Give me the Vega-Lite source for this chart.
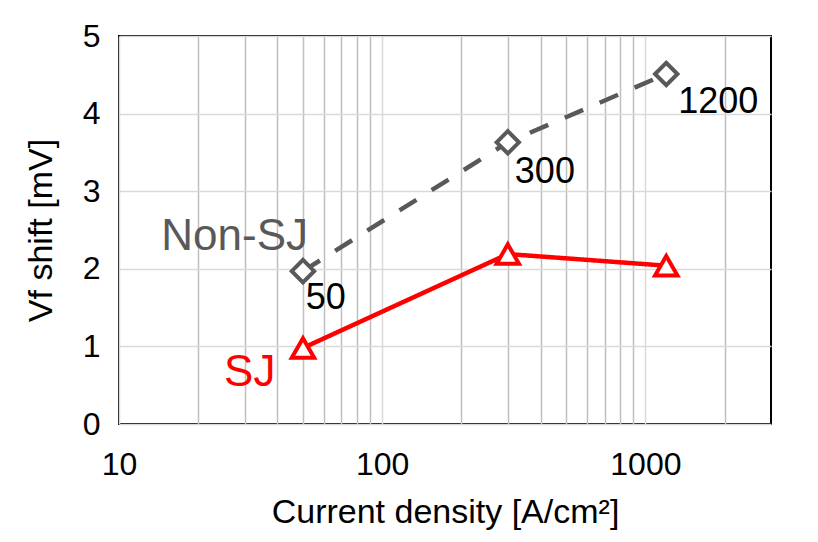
{
  "$schema": "https://vega.github.io/schema/vega-lite/v6.json",
  "width": 652,
  "height": 388,
  "autosize": {"type": "none"},
  "padding": {"left": 119, "top": 36, "right": 47, "bottom": 118},
  "background": "white",
  "config": {
    "view": {"stroke": "#000000", "strokeWidth": 2},
    "font": "Liberation Sans"
  },
  "datasets": {
    "points": [
      {"series": "Non-SJ", "x": 50, "y": 1.97},
      {"series": "Non-SJ", "x": 300, "y": 3.63},
      {"series": "Non-SJ", "x": 1200, "y": 4.51},
      {"series": "SJ", "x": 50, "y": 0.98},
      {"series": "SJ", "x": 300, "y": 2.19},
      {"series": "SJ", "x": 1200, "y": 2.04}
    ],
    "numlabels": [
      {"text": "50", "x": 61, "y": 1.63},
      {"text": "300", "x": 415, "y": 3.25},
      {"text": "1200", "x": 1890, "y": 4.15}
    ],
    "serieslabels": [
      {"series": "Non-SJ", "x": 27.5, "y": 2.41},
      {"series": "SJ", "x": 31.4, "y": 0.66}
    ]
  },
  "layer": [
    {
      "data": {"name": "points"},
      "mark": {"type": "line", "strokeWidth": 4.5},
      "encoding": {
        "x": {
          "field": "x",
          "type": "quantitative",
          "scale": {"type": "log", "domain": [10, 3000], "nice": false},
          "axis": {
            "values": [10, 20, 30, 40, 50, 60, 70, 80, 90, 100, 200, 300, 400, 500, 600, 700, 800, 900, 1000, 2000],
            "format": "d",
            "labelExpr": "(datum.value == 10 || datum.value == 100 || datum.value == 1000) ? datum.label : ''",
            "labelOverlap": false,
            "labelFlush": false,
            "gridColor": {"condition": {"test": "datum.value == 10 || datum.value == 100 || datum.value == 1000", "value": "#D9D9D9"}, "value": "#BFBFBF"},
            "gridWidth": 1.5,
            "domain": false,
            "ticks": false,
            "labelFontSize": 32,
            "labelColor": "#000000",
            "labelPadding": 25,
            "title": "Current density [A/cm²]",
            "titleFontSize": 34,
            "titleFontWeight": "normal",
            "titleColor": "#000000",
            "titlePadding": 15
          }
        },
        "y": {
          "field": "y",
          "type": "quantitative",
          "scale": {"domain": [0, 5], "nice": false},
          "axis": {
            "values": [0, 1, 2, 3, 4, 5],
            "format": "d",
            "gridColor": "#D9D9D9",
            "gridWidth": 1.5,
            "domain": false,
            "ticks": false,
            "labelFontSize": 32,
            "labelColor": "#000000",
            "labelPadding": 19,
            "title": "Vf shift [mV]",
            "titleFontSize": 34,
            "titleFontWeight": "normal",
            "titleColor": "#000000",
            "titlePadding": 24
          }
        },
        "color": {
          "field": "series",
          "type": "nominal",
          "scale": {"domain": ["Non-SJ", "SJ"], "range": ["#595959", "#FF0000"]},
          "legend": null
        },
        "strokeDash": {
          "field": "series",
          "type": "nominal",
          "scale": {"domain": ["Non-SJ", "SJ"], "range": [[20, 18], [1, 0]]},
          "legend": null
        }
      }
    },
    {
      "data": {"name": "points"},
      "mark": {"type": "point", "filled": false, "fill": "white", "fillOpacity": 1, "strokeWidth": 4, "size": 500, "opacity": 1},
      "encoding": {
        "x": {"field": "x", "type": "quantitative"},
        "y": {"field": "y", "type": "quantitative"},
        "color": {"field": "series", "type": "nominal", "legend": null},
        "shape": {
          "field": "series",
          "type": "nominal",
          "scale": {"domain": ["Non-SJ", "SJ"], "range": ["diamond", "triangle-up"]},
          "legend": null
        }
      }
    },
    {
      "data": {"name": "numlabels"},
      "mark": {"type": "text", "fontSize": 36, "color": "#000000", "align": "center", "baseline": "middle"},
      "encoding": {
        "x": {"field": "x", "type": "quantitative"},
        "y": {"field": "y", "type": "quantitative"},
        "text": {"field": "text"}
      }
    },
    {
      "data": {"name": "serieslabels"},
      "mark": {"type": "text", "fontSize": 44, "align": "center", "baseline": "middle"},
      "encoding": {
        "x": {"field": "x", "type": "quantitative"},
        "y": {"field": "y", "type": "quantitative"},
        "text": {"field": "series"},
        "color": {"field": "series", "type": "nominal", "legend": null}
      }
    }
  ]
}
